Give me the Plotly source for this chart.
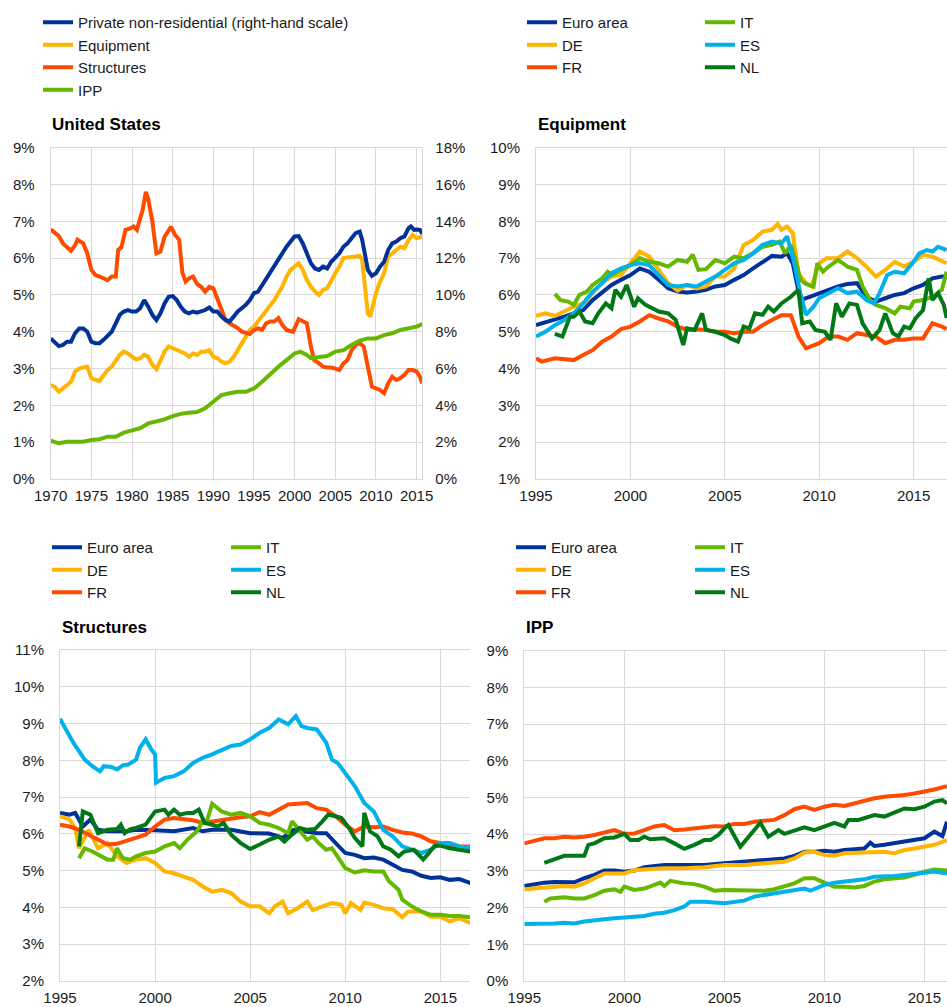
import plotly.graph_objects as go

# ---------------- data (decimal year, value in %) ----------------
# United States
US_PRIVATE_NONRES = [  # right-hand scale
    (1970, 7.64), (1970.5, 7.46), (1971, 7.22), (1971.5, 7.28), (1972, 7.46), (1972.5, 7.46),
    (1973, 7.92), (1973.5, 8.18), (1974, 8.18), (1974.5, 8.0), (1975, 7.46), (1975.5, 7.38),
    (1976, 7.38), (1976.5, 7.56), (1977, 7.82), (1977.5, 8.0), (1978, 8.46), (1978.5, 8.92),
    (1979, 9.1), (1979.5, 9.18), (1980, 9.1), (1980.5, 9.1), (1981, 9.28), (1981.5, 9.72),
    (1982, 9.36), (1982.5, 8.92), (1983, 8.64), (1983.5, 9.0), (1984, 9.54), (1984.5, 9.9),
    (1985, 9.94), (1985.5, 9.72), (1986, 9.36), (1986.5, 9.1), (1987, 9.0), (1987.5, 9.1),
    (1988, 9.04), (1988.5, 9.1), (1989, 9.18), (1989.5, 9.32), (1990, 9.1), (1990.5, 9.1),
    (1991, 8.82), (1991.5, 8.64), (1992, 8.56), (1992.5, 8.82), (1993, 9.1), (1993.5, 9.28),
    (1994, 9.46), (1994.5, 9.72), (1995, 10.1), (1995.5, 10.18), (1996, 10.54), (1996.5, 10.82),
    (1997, 11.18), (1997.5, 11.54), (1998, 11.9), (1998.5, 12.26), (1999, 12.62), (1999.5, 12.9),
    (2000, 13.18), (2000.5, 13.2), (2001, 12.8), (2001.5, 12.26), (2002, 11.72), (2002.5, 11.44),
    (2003, 11.36), (2003.5, 11.54), (2004, 11.44), (2004.5, 11.8), (2005, 12.0), (2005.5, 12.26),
    (2006, 12.62), (2006.5, 12.8), (2007, 13.08), (2007.5, 13.36), (2008, 13.44), (2008.3, 13.0),
    (2008.7, 12.08), (2009, 11.36), (2009.5, 11.04), (2010, 11.18), (2010.5, 11.54), (2011, 11.8),
    (2011.5, 12.44), (2012, 12.8), (2012.5, 12.9), (2013, 13.08), (2013.5, 13.18), (2014, 13.62),
    (2014.3, 13.72), (2014.7, 13.54), (2015, 13.56), (2015.4, 13.54), (2015.7, 13.32),
]
US_EQUIPMENT = [
    (1970, 2.55), (1970.5, 2.5), (1971, 2.37), (1971.5, 2.46), (1972, 2.55), (1972.5, 2.64),
    (1973, 2.92), (1973.5, 3.0), (1974, 3.03), (1974.5, 3.05), (1975, 2.74), (1975.5, 2.69),
    (1976, 2.67), (1976.5, 2.83), (1977, 2.96), (1977.5, 3.05), (1978, 3.23), (1978.5, 3.37),
    (1979, 3.46), (1979.5, 3.41), (1980, 3.32), (1980.5, 3.25), (1981, 3.28), (1981.5, 3.37),
    (1982, 3.32), (1982.5, 3.1), (1983, 2.98), (1983.5, 3.23), (1984, 3.46), (1984.5, 3.6),
    (1985, 3.55), (1985.5, 3.5), (1986, 3.46), (1986.5, 3.41), (1987, 3.32), (1987.5, 3.41),
    (1988, 3.37), (1988.5, 3.46), (1989, 3.46), (1989.5, 3.5), (1990, 3.32), (1990.5, 3.28),
    (1991, 3.19), (1991.5, 3.14), (1992, 3.19), (1992.5, 3.32), (1993, 3.5), (1993.5, 3.69),
    (1994, 3.87), (1994.5, 4.05), (1995, 4.14), (1995.5, 4.28), (1996, 4.46), (1996.5, 4.6),
    (1997, 4.73), (1997.5, 4.86), (1998, 5.05), (1998.5, 5.23), (1999, 5.5), (1999.5, 5.68),
    (2000, 5.77), (2000.5, 5.86), (2001, 5.68), (2001.5, 5.41), (2002, 5.23), (2002.5, 5.09),
    (2003, 5.0), (2003.5, 5.14), (2004, 5.18), (2004.5, 5.41), (2005, 5.59), (2005.5, 5.77),
    (2006, 6.0), (2006.5, 6.02), (2007, 6.04), (2007.5, 6.06), (2008, 6.06), (2008.3, 5.95),
    (2008.7, 5.14), (2009, 4.5), (2009.3, 4.41), (2009.7, 4.77), (2010, 5.05), (2010.5, 5.36),
    (2011, 5.59), (2011.5, 6.04), (2012, 6.13), (2012.5, 6.22), (2013, 6.31), (2013.5, 6.27),
    (2014, 6.49), (2014.5, 6.63), (2015, 6.54), (2015.5, 6.58), (2015.7, 6.6),
]
US_STRUCTURES = [
    (1970, 6.78), (1971, 6.6), (1971.5, 6.4), (1972, 6.3), (1972.5, 6.2), (1973, 6.35),
    (1973.3, 6.5), (1974, 6.4), (1974.5, 6.13), (1975, 5.68), (1975.5, 5.54), (1976, 5.5),
    (1976.5, 5.45), (1977, 5.4), (1977.5, 5.5), (1978, 5.5), (1978.3, 6.22), (1978.7, 6.3),
    (1979.2, 6.77), (1979.7, 6.8), (1980.2, 6.86), (1980.6, 6.77), (1981, 7.08), (1981.3, 7.3),
    (1981.7, 7.8), (1982, 7.6), (1982.5, 7.0), (1983, 6.13), (1983.5, 6.18), (1984, 6.58),
    (1984.8, 6.85), (1985.3, 6.63), (1985.8, 6.5), (1986.2, 5.6), (1986.6, 5.36), (1987, 5.45),
    (1987.5, 5.5), (1988, 5.3), (1988.5, 5.22), (1989, 5.09), (1989.5, 5.22), (1990, 5.18),
    (1990.4, 4.95), (1991, 4.6), (1991.5, 4.32), (1992, 4.23), (1992.5, 4.18), (1993, 4.1),
    (1993.5, 4.0), (1994, 3.96), (1994.5, 3.94), (1995, 4.05), (1995.5, 4.09), (1996, 4.05),
    (1996.5, 4.23), (1997, 4.28), (1997.5, 4.28), (1998, 4.37), (1998.5, 4.18), (1999, 4.05),
    (1999.8, 4.0), (2000.5, 4.34), (2001, 4.28), (2001.5, 4.23), (2002, 3.6), (2002.4, 3.23),
    (2003, 3.14), (2003.5, 3.05), (2004, 3.03), (2004.5, 3.03), (2005, 3.0), (2005.5, 2.96),
    (2006, 3.14), (2006.5, 3.23), (2007, 3.5), (2007.5, 3.64), (2008, 3.69), (2008.5, 3.6),
    (2009, 3.05), (2009.5, 2.51), (2010, 2.46), (2010.5, 2.42), (2011, 2.33), (2011.5, 2.6),
    (2012, 2.78), (2012.5, 2.69), (2013, 2.74), (2013.5, 2.83), (2014, 2.96), (2014.5, 2.96),
    (2015, 2.92), (2015.4, 2.78), (2015.7, 2.6),
]
US_IPP = [
    (1970, 1.04), (1971, 0.97), (1972, 1.01), (1973, 1.0), (1974, 1.01), (1975, 1.06),
    (1976, 1.08), (1977, 1.15), (1978, 1.15), (1979, 1.26), (1980, 1.33), (1981, 1.38),
    (1982, 1.51), (1983, 1.56), (1984, 1.62), (1985, 1.71), (1986, 1.77), (1987, 1.8),
    (1988, 1.82), (1989, 1.92), (1990, 2.1), (1991, 2.28), (1992, 2.33), (1993, 2.37),
    (1994, 2.37), (1995, 2.46), (1996, 2.64), (1997, 2.85), (1998, 3.05), (1999, 3.23),
    (2000, 3.41), (2000.7, 3.46), (2001.5, 3.37), (2002, 3.28), (2003, 3.32), (2004, 3.34),
    (2005, 3.46), (2006, 3.5), (2007, 3.64), (2008, 3.76), (2009, 3.82), (2010, 3.82),
    (2011, 3.91), (2012, 3.96), (2013, 4.05), (2014, 4.09), (2015, 4.14), (2015.7, 4.21),
]

# Euro area - equipment
EQ_EA = [
    (1995, 5.18), (1995.5, 5.25), (1996, 5.32), (1996.5, 5.41), (1997, 5.5), (1997.5, 5.59),
    (1998, 5.86), (1998.5, 6.05), (1999, 6.27), (1999.5, 6.41), (2000, 6.54), (2000.5, 6.72),
    (2001, 6.63), (2001.5, 6.41), (2002, 6.18), (2002.5, 6.09), (2003, 6.07), (2003.5, 6.09),
    (2004, 6.14), (2004.5, 6.23), (2005, 6.27), (2005.5, 6.41), (2006, 6.54), (2006.5, 6.72),
    (2007, 6.9), (2007.5, 7.06), (2008, 7.04), (2008.3, 7.13), (2008.6, 6.86), (2009, 5.86),
    (2009.5, 5.95), (2010, 6.05), (2010.5, 6.14), (2011, 6.23), (2011.5, 6.3), (2012, 6.32),
    (2012.5, 5.95), (2013, 5.82), (2013.5, 5.91), (2014, 6.0), (2014.5, 6.05), (2015, 6.18),
    (2015.5, 6.27), (2016, 6.45), (2016.5, 6.5), (2016.75, 6.5),
]
EQ_DE = [
    (1995, 5.43), (1995.5, 5.5), (1996, 5.43), (1996.5, 5.55), (1997, 5.68), (1997.5, 5.77),
    (1998, 6.05), (1998.5, 6.32), (1999, 6.5), (1999.5, 6.54), (2000, 6.86), (2000.5, 7.18),
    (2001, 7.04), (2001.5, 6.68), (2002, 6.32), (2002.5, 6.12), (2003, 6.27), (2003.5, 6.18),
    (2004, 6.23), (2004.5, 6.5), (2005, 6.5), (2005.5, 6.72), (2006, 7.36), (2006.5, 7.49),
    (2007, 7.72), (2007.5, 7.77), (2007.8, 7.93), (2008, 7.77), (2008.3, 7.86), (2008.6, 7.68),
    (2008.9, 6.59), (2009.3, 6.32), (2009.6, 6.23), (2010, 6.86), (2010.4, 7.0), (2011, 7.0),
    (2011.5, 7.18), (2012, 7.0), (2012.5, 6.77), (2013, 6.5), (2013.5, 6.68), (2014, 6.9),
    (2014.5, 6.77), (2015, 6.9), (2015.5, 7.09), (2016, 7.04), (2016.5, 6.9), (2016.75, 6.86),
]
EQ_FR = [
    (1995, 4.28), (1995.3, 4.19), (1996, 4.28), (1996.5, 4.25), (1997, 4.23), (1997.5, 4.37),
    (1998, 4.5), (1998.5, 4.73), (1999, 4.87), (1999.5, 5.07), (2000, 5.14), (2000.5, 5.28),
    (2001, 5.45), (2001.5, 5.36), (2002, 5.28), (2002.5, 5.14), (2003, 5.05), (2003.5, 5.07),
    (2004, 5.05), (2004.5, 5.0), (2005, 5.0), (2005.5, 4.96), (2006, 5.0), (2006.5, 5.0),
    (2007, 5.18), (2007.5, 5.32), (2008, 5.45), (2008.5, 5.45), (2008.9, 4.87), (2009.3, 4.55),
    (2010, 4.69), (2010.5, 4.87), (2011, 4.87), (2011.5, 4.78), (2012, 4.96), (2012.5, 4.91),
    (2013, 4.87), (2013.5, 4.69), (2014, 4.78), (2014.5, 4.78), (2015, 4.82), (2015.5, 4.82),
    (2016, 5.23), (2016.5, 5.14), (2016.75, 5.07),
]
EQ_IT = [
    (1996, 6.03), (1996.3, 5.86), (1996.7, 5.82), (1997, 5.73), (1997.3, 6.0), (1997.7, 6.09),
    (1998, 6.27), (1998.5, 6.45), (1998.8, 6.63), (1999, 6.54), (1999.5, 6.68), (2000, 6.81),
    (2000.5, 7.0), (2001, 6.9), (2001.5, 6.86), (2002, 6.77), (2002.5, 6.95), (2003, 6.9),
    (2003.3, 7.09), (2003.6, 6.68), (2004, 6.7), (2004.5, 6.95), (2005, 6.86), (2005.5, 7.04),
    (2006, 7.0), (2006.5, 7.13), (2007, 7.31), (2007.5, 7.36), (2007.9, 7.45), (2008.2, 7.13),
    (2008.5, 7.36), (2008.8, 6.86), (2009, 6.41), (2009.3, 6.3), (2009.7, 6.23), (2009.9, 6.86),
    (2010.2, 6.63), (2010.5, 6.77), (2011, 6.95), (2011.5, 6.77), (2012, 6.68), (2012.3, 6.23),
    (2012.7, 5.86), (2013, 5.73), (2013.5, 5.64), (2014, 5.5), (2014.3, 5.68), (2014.8, 5.64),
    (2015, 5.82), (2015.5, 5.86), (2016, 5.95), (2016.5, 6.14), (2016.75, 6.63),
]
EQ_ES = [
    (1995, 4.87), (1995.5, 5.0), (1996, 5.18), (1996.5, 5.32), (1997, 5.5), (1997.5, 5.77),
    (1998, 6.09), (1998.5, 6.32), (1999, 6.59), (1999.5, 6.72), (2000, 6.81), (2000.5, 6.86),
    (2001, 6.81), (2001.5, 6.54), (2002, 6.27), (2002.5, 6.23), (2003, 6.27), (2003.5, 6.23),
    (2004, 6.36), (2004.5, 6.5), (2005, 6.68), (2005.5, 6.86), (2006, 6.95), (2006.5, 7.13),
    (2007, 7.36), (2007.5, 7.45), (2008, 7.4), (2008.3, 7.59), (2008.6, 7.04), (2009, 6.05),
    (2009.3, 5.46), (2009.7, 5.68), (2010, 5.91), (2010.5, 6.05), (2011, 6.18), (2011.5, 6.05),
    (2012, 6.09), (2012.5, 5.86), (2012.9, 5.77), (2013.2, 6.05), (2013.6, 6.54), (2014, 6.63),
    (2014.5, 6.59), (2015, 6.9), (2015.3, 7.13), (2015.7, 7.22), (2016, 7.18), (2016.3, 7.31),
    (2016.75, 7.22),
]
EQ_NL = [
    (1996, 4.94), (1996.4, 4.87), (1996.8, 5.41), (1997, 5.41), (1997.3, 5.55), (1997.6, 5.28),
    (1998, 5.23), (1998.3, 5.5), (1998.7, 5.77), (1999, 5.64), (1999.2, 6.14), (1999.5, 5.95),
    (1999.8, 6.27), (2000.2, 5.68), (2000.4, 5.91), (2000.8, 5.73), (2001.5, 5.55), (2002, 5.5),
    (2002.4, 5.32), (2002.8, 4.64), (2003, 5.09), (2003.4, 5.05), (2003.8, 5.5), (2004, 5.05),
    (2004.5, 5.0), (2005, 4.91), (2005.3, 4.82), (2005.7, 4.73), (2006, 5.14), (2006.3, 5.09),
    (2006.6, 5.5), (2007, 5.46), (2007.3, 5.68), (2007.6, 5.55), (2008, 5.77), (2008.5, 5.95),
    (2008.9, 6.14), (2009.1, 5.23), (2009.5, 5.28), (2009.8, 5.05), (2010.3, 5.0), (2010.6, 4.78),
    (2010.9, 5.77), (2011.2, 5.41), (2011.6, 5.77), (2012, 5.73), (2012.3, 5.23), (2012.8, 4.82),
    (2013.2, 5.05), (2013.5, 5.5), (2013.9, 4.96), (2014.2, 4.87), (2014.5, 5.14), (2014.8, 5.09),
    (2015.1, 5.36), (2015.5, 5.59), (2015.8, 6.45), (2016, 5.86), (2016.3, 6.05), (2016.6, 5.73),
    (2016.75, 5.37),
]

# Euro area - structures
ST_EA = [
    (1995, 6.57), (1995.5, 6.52), (1995.8, 6.57), (1996.2, 6.2), (1996.6, 6.39), (1997, 6.11),
    (1997.5, 6.07), (1998, 6.07), (1998.5, 6.07), (1999, 6.11), (1999.5, 6.11), (2000, 6.1),
    (2001, 6.07), (2002, 6.16), (2002.5, 6.07), (2003, 6.11), (2004, 6.11), (2005, 6.02),
    (2006, 6.01), (2006.7, 5.89), (2007.3, 6.11), (2008, 6.07), (2008.5, 6.02), (2009, 6.02),
    (2009.5, 5.75), (2010, 5.48), (2010.5, 5.43), (2011, 5.34), (2011.5, 5.36), (2012, 5.3),
    (2012.5, 5.16), (2013, 5.02), (2013.5, 4.98), (2014, 4.86), (2014.5, 4.8), (2015, 4.82),
    (2015.5, 4.75), (2016, 4.77), (2016.6, 4.66),
]
ST_DE = [
    (1995, 6.48), (1995.5, 6.39), (1995.8, 6.16), (1996, 5.61), (1996.5, 6.11), (1997, 5.61),
    (1997.5, 5.75), (1998, 5.39), (1998.5, 5.21), (1999, 5.3), (1999.5, 5.34), (2000, 5.21),
    (2000.5, 4.98), (2001, 4.93), (2001.5, 4.84), (2002, 4.75), (2002.5, 4.57), (2003, 4.43),
    (2003.5, 4.48), (2004, 4.39), (2004.5, 4.16), (2005, 4.03), (2005.5, 4.03), (2006, 3.84),
    (2006.3, 4.03), (2006.7, 4.16), (2007, 3.84), (2007.5, 3.98), (2008, 4.16), (2008.3, 3.93),
    (2008.8, 4.03), (2009.3, 4.12), (2009.8, 4.07), (2010, 3.84), (2010.3, 4.12), (2010.8, 3.93),
    (2011, 4.13), (2011.5, 4.07), (2012, 3.98), (2012.5, 3.95), (2013, 3.73), (2013.3, 3.89),
    (2014, 3.89), (2014.5, 3.75), (2015, 3.75), (2015.5, 3.62), (2016, 3.71), (2016.6, 3.57),
]
ST_FR = [
    (1995, 6.25), (1995.5, 6.2), (1996, 6.11), (1996.5, 5.98), (1997, 5.84), (1997.5, 5.71),
    (1998, 5.73), (1998.5, 5.82), (1999, 5.89), (1999.5, 5.98), (2000, 6.2), (2000.5, 6.39),
    (2001, 6.43), (2001.5, 6.41), (2002, 6.37), (2002.5, 6.3), (2003, 6.34), (2003.5, 6.39),
    (2004, 6.43), (2004.5, 6.45), (2005, 6.48), (2005.5, 6.59), (2006, 6.52), (2006.5, 6.66),
    (2007, 6.8), (2007.5, 6.82), (2008, 6.84), (2008.5, 6.7), (2009, 6.66), (2009.5, 6.48),
    (2010, 6.25), (2010.5, 6.07), (2011, 6.2), (2011.5, 6.18), (2012, 6.2), (2012.5, 6.11),
    (2013, 6.04), (2013.5, 6.01), (2014, 5.93), (2014.5, 5.8), (2015, 5.75), (2015.5, 5.71),
    (2016, 5.66), (2016.6, 5.66),
]
ST_IT = [
    (1996, 5.34), (1996.3, 5.61), (1996.7, 5.52), (1997, 5.43), (1997.5, 5.3), (1997.8, 5.3),
    (1998, 5.61), (1998.3, 5.34), (1998.7, 5.3), (1999, 5.39), (1999.5, 5.48), (2000, 5.52),
    (2000.5, 5.66), (2001, 5.75), (2001.3, 5.61), (2001.7, 5.84), (2002.2, 6.07), (2002.5, 6.34),
    (2002.7, 6.3), (2003, 6.82), (2003.5, 6.61), (2004, 6.52), (2004.5, 6.57), (2005, 6.48),
    (2005.5, 6.3), (2006, 6.25), (2006.5, 6.16), (2007, 6.02), (2007.2, 6.34), (2007.5, 6.16),
    (2008, 5.84), (2008.3, 5.93), (2008.6, 5.75), (2009, 5.57), (2009.3, 5.61), (2009.7, 5.3),
    (2010, 5.07), (2010.5, 4.95), (2011, 5.01), (2011.5, 4.98), (2012, 4.98), (2012.3, 4.71),
    (2012.8, 4.48), (2013, 4.21), (2013.5, 4.03), (2014, 3.89), (2014.5, 3.8), (2015, 3.8),
    (2015.5, 3.77), (2016, 3.77), (2016.6, 3.73),
]
ST_ES = [
    (1995, 9.13), (1995.3, 8.84), (1995.7, 8.48), (1996, 8.25), (1996.3, 8.02), (1996.7, 7.84),
    (1997.1, 7.7), (1997.3, 7.84), (1997.7, 7.82), (1998, 7.75), (1998.3, 7.86), (1998.6, 7.89),
    (1999, 8.02), (1999.2, 8.34), (1999.5, 8.57), (1999.8, 8.3), (2000, 8.16), (2000.05, 7.39),
    (2000.5, 7.52), (2001, 7.57), (2001.5, 7.7), (2002, 7.93), (2002.5, 8.07), (2003, 8.16),
    (2003.5, 8.29), (2004, 8.39), (2004.5, 8.43), (2005, 8.57), (2005.5, 8.75), (2006, 8.88),
    (2006.5, 9.11), (2007, 8.98), (2007.4, 9.2), (2007.7, 8.93), (2008, 8.88), (2008.5, 8.84),
    (2009, 8.48), (2009.3, 8.02), (2009.6, 7.93), (2010, 7.66), (2010.5, 7.3), (2011, 6.84),
    (2011.5, 6.61), (2012, 6.11), (2012.5, 5.93), (2013, 5.66), (2013.5, 5.57), (2014, 5.48),
    (2014.5, 5.57), (2015, 5.75), (2015.5, 5.75), (2016, 5.66), (2016.6, 5.61),
]
ST_NL = [
    (1996, 5.66), (1996.2, 6.61), (1996.6, 6.52), (1997, 6.02), (1997.5, 6.11), (1998, 6.13),
    (1998.2, 6.25), (1998.4, 6.02), (1998.7, 6.13), (1999, 6.16), (1999.5, 6.25), (2000, 6.61),
    (2000.5, 6.66), (2000.7, 6.52), (2001, 6.66), (2001.3, 6.52), (2001.7, 6.57), (2002, 6.57),
    (2002.3, 6.66), (2002.6, 6.3), (2003, 6.25), (2003.3, 6.2), (2003.6, 6.3), (2004, 5.98),
    (2004.5, 5.75), (2005, 5.59), (2005.5, 5.71), (2006, 5.84), (2006.5, 5.93), (2006.8, 5.79),
    (2007.2, 5.98), (2007.6, 6.16), (2008, 6.11), (2008.4, 6.13), (2008.8, 6.34), (2009.1, 6.52),
    (2009.5, 6.48), (2009.8, 6.43), (2010.2, 6.16), (2010.5, 5.89), (2010.9, 5.66), (2011, 6.57),
    (2011.3, 6.07), (2011.7, 5.93), (2012, 5.66), (2012.4, 5.57), (2012.8, 5.39), (2013.1, 5.52),
    (2013.6, 5.57), (2014.1, 5.3), (2014.4, 5.48), (2014.7, 5.68), (2015, 5.68), (2015.5, 5.61),
    (2016, 5.57), (2016.6, 5.52),
]

# Euro area - IPP
IP_EA = [
    (1995, 2.59), (1995.5, 2.64), (1996, 2.68), (1996.5, 2.7), (1997, 2.7), (1997.5, 2.69),
    (1998, 2.8), (1998.5, 2.89), (1999, 3.01), (1999.5, 3.01), (2000, 2.98), (2000.5, 3.01),
    (2001, 3.1), (2001.5, 3.13), (2002, 3.16), (2003, 3.16), (2004, 3.16), (2005, 3.21),
    (2006, 3.25), (2007, 3.3), (2008, 3.34), (2008.5, 3.41), (2009, 3.52), (2009.5, 3.52),
    (2010, 3.55), (2010.5, 3.52), (2011, 3.57), (2011.5, 3.59), (2012, 3.61), (2012.3, 3.77),
    (2012.5, 3.68), (2013, 3.71), (2013.5, 3.75), (2014, 3.8), (2014.5, 3.84), (2015, 3.89),
    (2015.5, 4.07), (2015.9, 3.95), (2016.13, 4.34),
]
IP_DE = [
    (1995, 2.5), (1995.5, 2.52), (1996, 2.55), (1997, 2.59), (1997.5, 2.57), (1998, 2.66),
    (1998.5, 2.8), (1999, 2.93), (2000, 2.93), (2000.5, 3.02), (2001, 3.04), (2002, 3.07),
    (2003, 3.07), (2004, 3.1), (2005, 3.16), (2006, 3.16), (2007, 3.21), (2008, 3.25),
    (2008.5, 3.34), (2009, 3.5), (2009.5, 3.52), (2010, 3.43), (2010.5, 3.41), (2011, 3.48),
    (2012, 3.5), (2012.5, 3.52), (2013, 3.52), (2013.5, 3.48), (2014, 3.57), (2014.5, 3.61),
    (2015, 3.66), (2015.5, 3.71), (2016.13, 3.84),
]
IP_FR = [
    (1995, 3.75), (1995.5, 3.82), (1996, 3.89), (1996.5, 3.89), (1997, 3.93), (1997.5, 3.91),
    (1998, 3.93), (1998.5, 3.98), (1999, 4.04), (1999.5, 4.11), (2000, 4.01), (2000.5, 4.02),
    (2001, 4.11), (2001.5, 4.21), (2002, 4.25), (2002.5, 4.11), (2003, 4.13), (2003.5, 4.16),
    (2004, 4.19), (2004.5, 4.22), (2005, 4.21), (2005.5, 4.28), (2006, 4.28), (2006.5, 4.34),
    (2007, 4.37), (2007.5, 4.39), (2008, 4.52), (2008.5, 4.68), (2009, 4.75), (2009.5, 4.66),
    (2010, 4.75), (2010.5, 4.8), (2011, 4.77), (2011.5, 4.84), (2012, 4.93), (2012.5, 4.98),
    (2013, 5.02), (2013.5, 5.04), (2014, 5.07), (2014.5, 5.11), (2015, 5.16), (2015.5, 5.22),
    (2016.13, 5.31),
]
IP_IT = [
    (1996, 2.16), (1996.3, 2.25), (1997, 2.28), (1997.5, 2.25), (1998, 2.25), (1998.5, 2.34),
    (1999, 2.46), (1999.5, 2.5), (1999.8, 2.43), (2000, 2.57), (2000.5, 2.48), (2001, 2.52),
    (2001.5, 2.62), (2001.8, 2.68), (2002, 2.59), (2002.3, 2.73), (2003, 2.66), (2003.5, 2.64),
    (2004, 2.57), (2004.5, 2.46), (2005, 2.48), (2005.5, 2.48), (2006, 2.46), (2007, 2.46),
    (2007.5, 2.5), (2008, 2.57), (2008.5, 2.66), (2009, 2.8), (2009.5, 2.8), (2010, 2.68),
    (2010.5, 2.57), (2011, 2.57), (2011.5, 2.55), (2012, 2.59), (2012.5, 2.71), (2013, 2.77),
    (2013.5, 2.8), (2014, 2.82), (2014.5, 2.89), (2015, 2.98), (2015.5, 3.04), (2016, 3.02),
    (2016.13, 3.01),
]
IP_ES = [
    (1995, 1.55), (1995.5, 1.55), (1996, 1.57), (1996.5, 1.57), (1997, 1.59), (1997.5, 1.57),
    (1998, 1.62), (1998.5, 1.66), (1999, 1.68), (1999.5, 1.71), (2000, 1.73), (2000.5, 1.73),
    (2001, 1.77), (2001.5, 1.83), (2002, 1.86), (2002.5, 1.93), (2003, 2.03), (2003.3, 2.16),
    (2004, 2.16), (2005, 2.12), (2005.5, 2.16), (2006, 2.19), (2006.5, 2.3), (2007, 2.34),
    (2007.5, 2.39), (2008, 2.43), (2008.5, 2.48), (2009, 2.52), (2009.3, 2.46), (2010, 2.62),
    (2010.5, 2.68), (2011, 2.71), (2011.5, 2.73), (2012, 2.77), (2012.5, 2.84), (2013, 2.84),
    (2013.5, 2.86), (2014, 2.89), (2014.5, 2.93), (2015, 2.95), (2015.5, 2.98), (2016, 2.95),
    (2016.13, 2.93),
]
IP_NL = [
    (1996, 3.22), (1996.5, 3.32), (1997, 3.41), (1997.5, 3.41), (1998, 3.41), (1998.2, 3.71),
    (1998.5, 3.75), (1999, 3.89), (1999.5, 3.91), (2000, 4.01), (2000.3, 3.84), (2000.7, 3.84),
    (2001, 3.93), (2001.3, 3.86), (2002, 3.89), (2002.5, 3.75), (2003, 3.6), (2003.5, 3.71),
    (2004, 3.84), (2004.3, 3.84), (2004.7, 3.98), (2005, 4.16), (2005.2, 4.25), (2005.8, 3.66),
    (2006.3, 3.98), (2006.8, 4.31), (2007.2, 3.93), (2007.7, 4.11), (2008, 4.01), (2008.5, 4.11),
    (2009, 4.19), (2009.5, 4.11), (2010, 4.21), (2010.5, 4.31), (2011, 4.21), (2011.2, 4.39),
    (2011.7, 4.39), (2012, 4.43), (2012.5, 4.52), (2013, 4.48), (2013.5, 4.59), (2014, 4.7),
    (2014.5, 4.68), (2015, 4.75), (2015.5, 4.89), (2015.9, 4.93), (2016.13, 4.84),
]

US_NAMES = ['Private non-residential (right-hand scale)', 'Equipment', 'Structures', 'IPP']
EA_NAMES = ['Euro area', 'DE', 'FR', 'IT', 'ES', 'NL']
PANEL_TITLES = ['United States', 'Equipment', 'Structures', 'IPP']

# ---------------- styling ----------------
COLORS = {
    'blue': '#003299', 'yellow': '#FFB400', 'red': '#FF4B00',
    'lgreen': '#65B800', 'lblue': '#00B1EA', 'dgreen': '#007816',
}
EA_COLORS = [COLORS['blue'], COLORS['yellow'], COLORS['red'],
             COLORS['lgreen'], COLORS['lblue'], COLORS['dgreen']]
FONT = 'Liberation Sans, Arial, sans-serif'
GRID = '#D9D9D9'
TXT = '#1a1a1a'
W, H = 947, 1007
LW = 4


def px(x):
    return x / W


def py(y):
    return 1 - y / H


def unzip(pairs):
    return [p[0] for p in pairs], [p[1] for p in pairs]


fig = go.Figure()

# ---- panel 1: United States ----
us_series = [US_PRIVATE_NONRES, US_EQUIPMENT, US_STRUCTURES, US_IPP]
us_colors = [COLORS['blue'], COLORS['yellow'], COLORS['red'], COLORS['lgreen']]
for i, (s, name, c) in enumerate(zip(us_series, US_NAMES, us_colors)):
    x, y = unzip(s)
    fig.add_trace(go.Scatter(x=x, y=y, name=name, mode='lines',
                             line=dict(color=c, width=LW),
                             xaxis='x', yaxis='y2' if i == 0 else 'y',
                             legend='legend', hoverinfo='skip'))

# ---- panels 2-4: euro area ----
ea_panels = [
    ([EQ_EA, EQ_DE, EQ_FR, EQ_IT, EQ_ES, EQ_NL], 'x2', 'y3', 'legend2', 'legend3'),
    ([ST_EA, ST_DE, ST_FR, ST_IT, ST_ES, ST_NL], 'x3', 'y4', 'legend4', 'legend5'),
    ([IP_EA, IP_DE, IP_FR, IP_IT, IP_ES, IP_NL], 'x4', 'y5', 'legend6', 'legend7'),
]
for series, xa, ya, lg1, lg2 in ea_panels:
    for j, (s, name, c) in enumerate(zip(series, EA_NAMES, EA_COLORS)):
        x, y = unzip(s)
        fig.add_trace(go.Scatter(x=x, y=y, name=name, mode='lines',
                                 line=dict(color=c, width=LW),
                                 xaxis=xa, yaxis=ya,
                                 legend=lg1 if j < 3 else lg2, hoverinfo='skip'))

tickfont = dict(family=FONT, size=15, color=TXT)


def xaxis(dom, rng, dtick_start):
    return dict(domain=[px(dom[0]), px(dom[1])], range=rng,
                tickmode='linear', tick0=dtick_start, dtick=5,
                showgrid=True, gridcolor=GRID, gridwidth=1,
                showline=True, linecolor=GRID, linewidth=1, mirror=True,
                zeroline=False, ticks='', tickfont=tickfont, ticklabelstandoff=3)


def yaxis(dom, rng, dtick, anchor, side='left', mirror=False, grid=True):
    return dict(domain=[py(dom[1]), py(dom[0])], range=rng, dtick=dtick, tick0=0,
                ticksuffix='%', showgrid=grid, gridcolor=GRID, gridwidth=1,
                showline=grid, linecolor=GRID, linewidth=1, mirror=mirror,
                zeroline=False, ticks='', tickfont=tickfont, anchor=anchor,
                side=side, ticklabelstandoff=12)


fig.update_layout(
    xaxis=dict(xaxis((50.7, 422.3), [1970, 2015.7], 1970), anchor='y'),
    yaxis=yaxis((147.7, 479), [0, 9], 1, 'x', mirror=True),
    yaxis2=dict(yaxis((147.7, 479), [0, 18], 2, 'x', side='right', grid=False),
                overlaying='y'),
    xaxis2=dict(xaxis((536, 947), [1995, 2016.77], 1995), anchor='y3'),
    yaxis3=yaxis((147.7, 479), [1, 10], 1, 'x2'),
    xaxis3=dict(xaxis((60, 470), [1995, 2016.56], 1995), anchor='y4'),
    yaxis4=yaxis((650, 981), [2, 11], 1, 'x3'),
    xaxis4=dict(xaxis((524.3, 947), [1995, 2016.13], 1995), anchor='y5'),
    yaxis5=yaxis((650.7, 981), [0, 9], 1, 'x4'),
)

legend_font = dict(family=FONT, size=15, color=TXT)


def legend(xp, yp):
    return dict(x=px(xp), y=py(yp), xanchor='left', yanchor='top',
                orientation='v', font=legend_font, bgcolor='rgba(0,0,0,0)',
                borderwidth=0, itemclick=False, itemdoubleclick=False,
                tracegroupgap=0)


fig.update_layout(
    legend=legend(38, 6),
    legend2=legend(522, 6),
    legend3=legend(700, 6),
    legend4=legend(47, 531),
    legend5=legend(226, 531),
    legend6=legend(511, 531),
    legend7=legend(690, 531),
)

title_pos = [(50, 125), (536, 125), (60, 627), (524, 627)]
for t, (tx, ty) in zip(PANEL_TITLES, title_pos):
    fig.add_annotation(text='<b>%s</b>' % t, x=px(tx), y=py(ty), xref='paper', yref='paper',
                       xanchor='left', yanchor='middle', showarrow=False,
                       font=dict(family=FONT, size=17, color='#000'))

fig.update_layout(
    width=W, height=H,
    margin=dict(l=0, r=0, t=0, b=0, pad=0, autoexpand=False),
    paper_bgcolor='white', plot_bgcolor='white', showlegend=True,
    font=dict(family=FONT, size=15, color=TXT),
)

fig.write_html("out.html", config={'displayModeBar': False},
               post_script="document.body.style.margin='0';")
